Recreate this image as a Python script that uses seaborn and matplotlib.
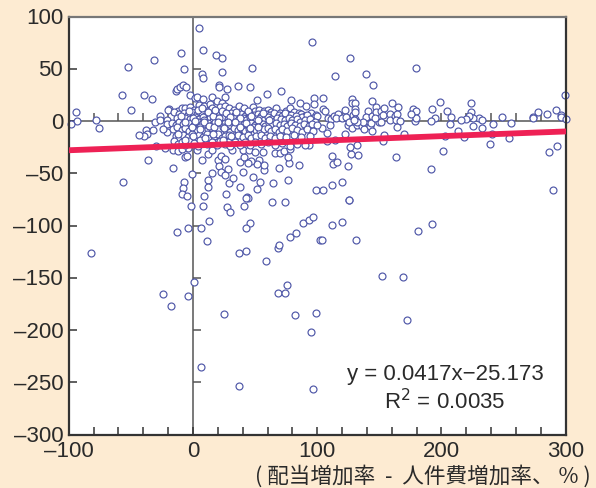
import matplotlib
matplotlib.use('Agg')
import matplotlib.pyplot as plt
from matplotlib.transforms import ScaledTranslation
import seaborn as sns
import pandas as pd

# points read one by one where they can be told apart
upper_points = [
    (5.1, 89.4), (95.7, 75.4), (7.8, 67.7), (-9.4, 65.2), (18.5, 63.2), (23.1, 60.4), (-31.5, 58.4),
    (-51.9, 51.7), (-7.3, 49.5), (23.7, 47.3), (47.6, 51.1), (7.5, 44.7), (7.8, 40.9), (21.2, 34.2),
    (20.7, 32.3), (27.4, 30.7), (36.6, 33.2), (46.2, 32.3), (71.2, 28.7), (59.4, 25.9), (51.6, 20.1),
    (79.3, 20.4), (86.3, 17.6), (97.8, 22.4), (97.8, 16.6), (91.1, 14.4), (-57, 24.9), (-39.2, 24.9),
    (-33.1, 20.8), (-50, 10.5), (-94.4, 8.9), (-93.5, -0.3), (-98.4, -2.9), (-78.2, 1), (-75.8, -7),
    (-14, 28.4), (-12.6, 31), (-10.5, 32.9), (-7.8, 34.2), (-5.6, 32.3), (-2.7, 24.6), (1.3, 21.7),
    (3.2, 23), (8.3, 20.8), (15.1, 23), (19.6, 19.2), (25.5, 22.7), (23.4, 16.9), (-19.4, 11.5),
    (-20.4, 10.5), (-26.3, 4.8), (-30.6, -1), (-26.6, 1), (-21.2, 1), (-20.7, -3.2), (-20.7, -10.5),
    (-23.9, -7.3), (-37.4, -8.6), (-36.8, -12.5), (-32.3, -8.3), (-39.2, -14.4), (-43.3, -13.4),
    (-30.1, -24), (-22.6, -26.2), (-36.3, -37.4), (-16.1, -44.7), (-1.1, -51.1), (-56.2, -58.8),
    (-7.3, -58.8), (-8.1, -64.2), (-8.6, -69.6), (-4.8, -71.9), (8.6, -71.9),
]
middle_points = [
    (7.5, -37.7), (11.8, -31.9), (15.6, -27.8), (19.9, -37.4), (22.3, -33.5), (25.8, -36.7), (28, -45.7),
    (21, -43.1), (22.6, -48.9), (25.5, -52), (15.6, -49.5), (11.8, -56.9), (12.4, -62.9), (28.8, -59.7),
    (32.5, -54.6), (26.3, -69.9), (37.9, -62.9), (40.6, -48.5), (48.7, -53.7), (54, -58.1), (51.6, -64.8),
    (43.3, -72.8), (64.5, -59.7), (76.1, -56.2), (98.7, -65.8), (69.1, -44.7), (85.5, -42.2), (77.4, -40.2),
    (76.6, -34.8), (57.5, -47.3), (57.5, -42.2), (53.5, -37.7), (51.9, -40.9), (47, -38), (44.4, -39.9),
    (38.2, -39), (41.1, -34.8), (31.2, -27.5), (40.6, -27.8), (45.4, -28.1), (49.7, -30), (56.7, -29.7),
    (66.1, -31), (70.2, -31), (73.4, -28.7), (78.2, -27.1), (93.3, -22.7), (-16, -27.8), (-12, -28.7),
    (-6, -34), (-5, -33.5), (-4, -26), (3, -28), (-9, -27),
]
right_points = [
    (126.6, 60), (179.8, 50.5), (114.2, 42.8), (139.5, 45.4), (144.6, 34.8), (299.4, 25.2), (104.3, 22),
    (128.2, 21.4), (128.2, 17.6), (130.1, 16.9), (143.8, 19.5), (160.5, 17.6), (164.8, 13.7), (198.6, 18.2),
    (223.4, 16.9), (192.2, 11.5), (176.9, 11.8), (179.8, 9.9), (204.8, 9.3), (223.4, 8.9), (292.5, 10.5),
    (277.7, 8.9), (284.7, 7), (296, 6.1), (296.5, 4.2), (300, 1.6), (273.9, 4.2), (273.4, 2.6), (248.4, 3.5),
    (255.9, -1.9), (241.7, -2.6), (230.6, 2.9), (233, 0.6), (232.8, -6.4), (225, -4.5), (225, 2.6),
    (221.8, 4.5), (219.6, 1.6), (216.1, 1), (207.5, 4.2), (206.7, -2.6), (194.9, 2.6), (191.9, 0), (179, 0),
    (179.3, 2.9), (175.2, 7), (213.4, -9.6), (203.2, -14.7), (218, -15), (240.6, -12.1), (254, -16.6),
    (239, -22.4), (201.6, -28.7), (191.4, -45.7), (286.8, -29.4), (293.3, -24.3), (289.8, -66.4),
    (170.1, -12.8), (153.5, -13.7), (152.9, -19.5), (163.7, -34.8), (132.5, -32.6), (126.9, -31.6),
    (132, -22.7), (126.6, -24.6), (111.8, -33.2), (112.9, -40.9), (115.8, -39.6), (125, -42.8),
    (119.6, -58.1), (112.1, -61.3), (104.3, -66.4), (125.2, -75.7), (114.5, -17.9), (107.8, -19.2),
    (122.3, -12.1), (108, -11.5), (103.7, -6.7), (105, 11.2), (106.2, 9.6), (108.9, 2.9), (111.3, 1.6),
    (113.2, 5.1), (116.4, 6.7), (115, 2.9), (119.9, 3.2), (122.3, 10.2), (122.8, 3.5), (128.7, 5.7),
    (130.4, 11.2), (130.6, 8.9), (130.4, 1.6), (141.1, 9.6), (139.5, 3.5), (144.1, 4.5), (147.6, 13.1),
    (147.6, 8.6), (151.1, 9.3), (153.5, 12.5), (152.9, 6.1), (158.3, 6.4), (158.8, 0.6), (162.9, 4.8),
    (164.2, 6.7), (163.7, 0.6), (166.9, 0), (164, -5.4), (110.5, -4.2), (124.4, -4.2), (127.9, -6.4),
    (132, -4.2), (136, -2.2), (136, -4.8), (137.9, -8), (142.7, -4.8), (144.3, -9.6), (143.3, -2.2),
    (136.8, -1), (149.4, -0.6), (151.3, -0.6), (146.8, 3.2), (132, -0.6), (125.2, -1), (129.3, 1),
]
lower_points = [
    (-82.3, -126.7), (-24.5, -166), (-18, -176.9), (-4.3, -167.9), (0.8, -153.6), (25, -184.9), (6.7, -235.6),
    (37.4, -253.5), (96.5, -256.1), (82.5, -186.1), (98.9, -183.9), (95.4, -202.1), (75.8, -157.4),
    (68.3, -164.7), (73.7, -164.7), (58.9, -133.7), (36.8, -126.4), (42.5, -124.5), (68.3, -121.6),
    (69.1, -118.7), (78.2, -110.8), (83.1, -107.2), (88.4, -97.3), (93, -95.1), (96.5, -91.6), (102.4, -113.9),
    (46, -98), (42.5, -102.8), (11, -114.6), (13.2, -95.4), (6.7, -102.1), (-3.8, -102.1), (-12.9, -106),
    (-1.9, -81.1), (7.8, -81.4), (27.2, -82), (30.1, -87.1), (41.4, -81.7), (63.7, -77.9), (73.9, -77.9),
    (44.1, -73.4), (42.7, -73.4), (125.2, -75.9), (112.1, -99.3), (119.6, -97), (104, -113.6), (130.9, -114.3),
    (152.4, -148.4), (168.8, -149.7), (181.2, -105.3), (192.2, -98.3), (172.6, -190.3),
]
# the dense band around zero, estimated row by row
band_points = [
    (-12, 10), (-9, 12), (-6, 12), (-2, 13), (1, 11), (5, 15), (9, 14), (11, 10), (14, 16), (15, 12), (19, 9),
    (22, 13), (26, 14), (29, 12), (33, 11), (37, 14), (38, 9), (41, 12), (48, 13), (50, 10), (53, 11), (57, 10),
    (60, 11), (63, 9), (67, 12), (70, 8), (75, 10), (78, 12), (76, 7), (81, 9), (85, 8), (87, 7), (90, 5), (95, 8),
    (99, 6), (-15, 9), (-11, 7), (-7, 8), (-4, 6), (-1, 9), (3, 7), (7, 8), (10, 5), (13, 7), (17, 8), (20, 6),
    (24, 7), (27, 5), (31, 8), (34, 6), (39, 7), (42, 5), (45, 8), (49, 6), (52, 7), (55, 5), (59, 7), (62, 6),
    (65, 8), (69, 6), (72, 5), (74, 8), (79, 6), (83, 5), (88, 4), (92, 6), (97, 3), (100, 5), (-13, 3), (-9, 1),
    (-6, 3), (-2, 2), (2, 4), (5, 2), (8, 4), (11, 1), (14, 3), (16, 0), (19, 3), (22, 1), (25, 4), (28, 2), (31, 0),
    (33, 3), (36, 1), (40, 3), (43, 1), (46, 4), (48, 0), (51, 2), (54, 3), (57, 1), (60, 4), (63, 2), (66, 0),
    (68, 3), (71, 2), (74, 1), (77, 3), (80, 1), (84, 2), (86, -1), (90, 1), (94, 2), (98, -1), (-17, -2), (-14, -4),
    (-11, -1), (-8, -3), (-5, -5), (-2, -2), (1, -4), (4, -1), (7, -3), (10, -5), (12, -2), (15, -4), (18, -1),
    (21, -3), (23, -5), (26, -2), (29, -4), (32, -2), (35, -4), (37, -1), (41, -3), (44, -5), (47, -2), (50, -4),
    (53, -1), (56, -3), (58, -5), (61, -2), (64, -4), (67, -2), (70, -4), (73, -3), (76, -5), (79, -2), (82, -4),
    (86, -5), (89, -3), (93, -5), (96, -3), (100, -4), (-16, -8), (-13, -6), (-9, -9), (-6, -7), (-3, -10), (0, -7),
    (3, -9), (6, -6), (9, -10), (12, -8), (15, -7), (18, -10), (21, -8), (24, -6), (27, -9), (30, -11), (33, -7),
    (36, -9), (39, -7), (42, -10), (45, -8), (48, -6), (51, -9), (54, -11), (57, -8), (60, -7), (63, -10), (66, -8),
    (69, -11), (72, -8), (76, -10), (80, -7), (84, -9), (88, -11), (92, -8), (97, -10), (-14, -14), (-11, -16),
    (-8, -13), (-4, -15), (-1, -12), (2, -16), (5, -13), (8, -15), (11, -12), (14, -16), (17, -14), (20, -12),
    (23, -16), (26, -14), (29, -13), (33, -16), (36, -13), (40, -15), (44, -13), (47, -16), (51, -14), (55, -13),
    (58, -16), (62, -14), (66, -16), (70, -14), (75, -15), (81, -13), (87, -15), (94, -14), (-15, -19), (-12, -22),
    (-9, -20), (-6, -23), (-3, -19), (1, -21), (4, -24), (8, -19), (11, -22), (15, -20), (19, -23), (22, -19),
    (26, -22), (30, -24), (34, -20), (38, -23), (42, -20), (46, -23), (50, -20), (55, -22), (60, -20), (66, -23),
    (72, -21), (78, -24), (84, -22), (90, -23),
    (-10, 5), (-3, 10), (0, 3), (4, 11), (7, 12), (9, 1), (12, 9), (16, 5), (18, 11), (21, 3), (23, 10), (27, 8),
    (30, 4), (35, 9), (38, 3), (44, 10), (47, 5), (52, 1), (56, 8), (61, 1), (-6, -1), (-1, -6), (2, 0), (6, -8),
    (9, -1), (13, -5), (17, -6), (20, -1), (25, -7), (28, -1), (34, -1), (38, -6), (43, -2), (46, -7), (52, -6),
    (-12, -12), (-6, -18), (0, -14), (6, -18), (10, -16), (16, -12), (24, -18), (31, -14),
]

trend_x = [-100, 300]
trend_y = [-28, -10]
x_major = [-100, 0, 100, 200, 300]
x_ticks = list(range(-100, 301, 20))
y_major = [-300, -250, -200, -150, -100, -50, 0, 50, 100]

bg = '#fdebd2'
ink = '#333333'

plt.rcParams['font.family'] = ['Liberation Sans', 'DejaVu Sans']

all_points = upper_points + middle_points + right_points + lower_points + band_points
df = pd.DataFrame(all_points, columns=['x', 'y'])

fig = plt.figure(figsize=(5.96, 4.89), dpi=100, facecolor=bg)
ax = fig.add_axes([68.7 / 596, 1 - 435.5 / 489, (565.7 - 68.7) / 596, (435.5 - 17.5) / 489])
ax.set_facecolor('white')

ax.axhline(0, color='#555555', lw=1.1, zorder=1)
ax.axvline(0, color='#555555', lw=1.1, zorder=1)
ax.vlines(x_ticks, 0, 7.5, color='#555555', lw=1.1, zorder=1)
ax.hlines(y_major, 0, 6.5, color='#555555', lw=1.1, zorder=1)

sns.scatterplot(data=df, x='x', y='y', s=25, facecolor='white', edgecolor='#4f57a8', linewidth=0.85,
                clip_on=False, zorder=2, ax=ax)
sns.lineplot(x=trend_x, y=trend_y, color='#ee2155', lw=4.2, zorder=3, ax=ax)

ax.set_xlim(-100, 300)
ax.set_ylim(-300, 100)
ax.set_xticks(x_major)
ax.set_xticks(x_ticks, minor=True)
ax.set_yticks(y_major)
ax.set_xlabel('')
ax.set_ylabel('')
ax.tick_params(axis='both', which='major', direction='in', length=6, width=1.1, color=ink, labelsize=16,
               labelcolor='#2a2a2a', pad=4)
ax.tick_params(axis='x', which='minor', direction='in', length=6, width=1.1, color=ink)
ax.set_xticklabels(['\u2013100', '0', '100', '200', '300'])
ax.set_yticklabels(['\u2013300', '\u2013250', '\u2013200', '\u2013150', '\u2013100', '\u201350', '0', '50', '100'])
# y labels sit slightly above their ticks in the original
up = ScaledTranslation(0, 1 / 72, fig.dpi_scale_trans)
for lab in ax.get_yticklabels():
    lab.set_transform(lab.get_transform() + up)
for s in ax.spines.values():
    s.set_color(ink)
    s.set_linewidth(1.6)
ax.spines['top'].set_color('#777777')

ax.text(0.757, 0.146, 'y = 0.0417x\u221225.173', transform=ax.transAxes, ha='center', va='center',
        fontsize=16, color='#2a2a2a')
ax.text(0.757, 0.081, 'R$^{2}$ = 0.0035', transform=ax.transAxes, ha='center', va='center',
        fontsize=16, color='#2a2a2a', math_fontfamily='dejavusans')
fig.text(591 / 596, 1 - 476 / 489, '( 配当増加率  -  人件費増加率、 % )', ha='right', va='center', fontsize=15.6,
         color='#2a2a2a', family=['Noto Sans CJK JP', 'DejaVu Sans'])

fig.savefig('out.png', dpi=100, facecolor=bg)
